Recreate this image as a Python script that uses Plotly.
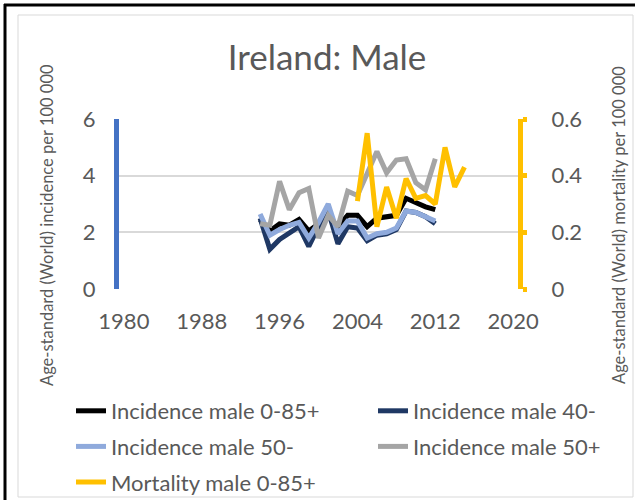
import plotly.graph_objects as go

# ---- data ----
years_inc = list(range(1994, 2013))
inc_male_all = [2.45, 2.05, 2.30, 2.25, 2.45, 2.05, 2.30, 2.55, 2.20, 2.60, 2.60, 2.20, 2.50, 2.55, 2.60, 3.20, 3.05, 2.90, 2.80]
inc_male_40m = [2.50, 1.40, 1.75, 1.95, 2.20, 1.50, 2.20, 2.75, 1.60, 2.20, 2.15, 1.70, 1.90, 1.95, 2.10, 2.75, 2.70, 2.55, 2.30]
inc_male_50m = [2.65, 1.90, 2.10, 2.25, 2.35, 1.80, 2.35, 3.00, 1.95, 2.40, 2.40, 1.80, 1.95, 2.00, 2.15, 2.75, 2.70, 2.55, 2.40]
inc_male_50p = [2.30, 2.25, 3.80, 2.80, 3.40, 3.55, 1.80, 2.60, 2.20, 3.45, 3.30, 4.10, 4.85, 4.10, 4.55, 4.60, 3.75, 3.50, 4.60]
years_mort = list(range(2004, 2016))
mort_male_all = [0.31, 0.55, 0.22, 0.36, 0.25, 0.39, 0.32, 0.33, 0.30, 0.50, 0.36, 0.43]

x_ticks = [1980, 1988, 1996, 2004, 2012, 2020]
y_left_ticks = [0, 2, 4, 6]
y_right_ticks = [0, 0.2, 0.4, 0.6]
y_right_labels = ["0", "0.2", "0.4", "0.6"]

FONT = "Lato"
GREY_TXT = "#595959"
GRID = "#D9D9D9"

W, H = 635, 500
L, R, T, B = 119, 518, 119, 289
def px(x):
    return (x - L) / (R - L)
def py(y):
    return (B - y) / (B - T)

fig = go.Figure()
series = [
    ("Incidence male 0-85+", years_inc, inc_male_all, "#000000", "y", "legend"),
    ("Incidence male 40-", years_inc, inc_male_40m, "#1F3864", "y", "legend2"),
    ("Incidence male 50-", years_inc, inc_male_50m, "#8FAADC", "y", "legend"),
    ("Incidence male 50+", years_inc, inc_male_50p, "#A5A5A5", "y", "legend2"),
    ("Mortality male 0-85+", years_mort, mort_male_all, "#FFC000", "y2", "legend"),
]
for i, (name, xs, ys, col, ax, lg) in enumerate(series):
    fig.add_trace(go.Scatter(x=xs, y=ys, name=name, mode="lines", yaxis=ax,
                             legend=lg, legendgroup="g%d" % i,
                             line=dict(color=col, width=5)))

shapes = [
    dict(type="rect", xref="paper", yref="paper", x0=px(18), x1=px(633), y0=py(497), y1=py(15),
         line=dict(color=GRID, width=1), layer="below"),
    dict(type="line", xref="paper", yref="paper", x0=px(5), x1=px(5), y0=py(500), y1=py(4),
         line=dict(color="#000000", width=3)),
    dict(type="line", xref="paper", yref="paper", x0=px(4), x1=px(635), y0=py(5), y1=py(5),
         line=dict(color="#000000", width=3)),
]

annotations = [
    dict(text="Age-standard (World) incidence per 100 000", textangle=-90, xref="paper", yref="paper",
         x=px(47), y=py(225), showarrow=False, font=dict(family=FONT, size=16.5, color=GREY_TXT),
         xanchor="center", yanchor="middle"),
    dict(text="Age-standard (World) mortality per 100 000", textangle=-90, xref="paper", yref="paper",
         x=px(619), y=py(225), showarrow=False, font=dict(family=FONT, size=16.5, color=GREY_TXT),
         xanchor="center", yanchor="middle"),
]

leg_common = dict(orientation="v", xanchor="left", yanchor="top", bgcolor="rgba(0,0,0,0)",
                  font=dict(family=FONT, size=22, color=GREY_TXT), tracegroupgap=4,
                  itemwidth=30, borderwidth=0)

fig.update_layout(
    width=W, height=H,
    margin=dict(l=L, r=W - R, t=T, b=H - B, pad=0, autoexpand=False),
    paper_bgcolor="white", plot_bgcolor="white",
    title=dict(text="Ireland: Male", x=327 / W, xanchor="center", y=1 - 58 / H, yanchor="middle",
               font=dict(family=FONT, size=35, color=GREY_TXT)),
    font=dict(family=FONT, color=GREY_TXT),
    xaxis=dict(range=[1979.5, 2020.5], tickvals=x_ticks, showgrid=False, zeroline=False,
               showline=False, ticks="", ticklabelstandoff=17,
               tickfont=dict(family=FONT, size=22, color=GREY_TXT)),
    yaxis=dict(range=[0, 6], tickvals=y_left_ticks, showgrid=True, gridcolor=GRID, gridwidth=1.5,
               zeroline=False, showline=True, linecolor="#4472C4", linewidth=5, ticks="",
               ticklabelstandoff=14, tickfont=dict(family=FONT, size=22, color=GREY_TXT)),
    yaxis2=dict(range=[0, 0.6], tickvals=y_right_ticks, ticktext=y_right_labels, overlaying="y",
                side="right", showgrid=False, zeroline=False, showline=True, linecolor="#FFC000",
                linewidth=5, ticks="outside", ticklen=4, tickwidth=5, tickcolor="#FFC000",
                ticklabelstandoff=20, tickfont=dict(family=FONT, size=22, color=GREY_TXT)),
    legend=dict(x=px(71), y=py(390), **leg_common),
    legend2=dict(x=px(373), y=py(390), **leg_common),
    shapes=shapes,
    annotations=annotations,
)

fig.write_html("out.html", config={"displayModeBar": False},
               post_script="document.body.style.margin='0';document.body.style.padding='0';")
